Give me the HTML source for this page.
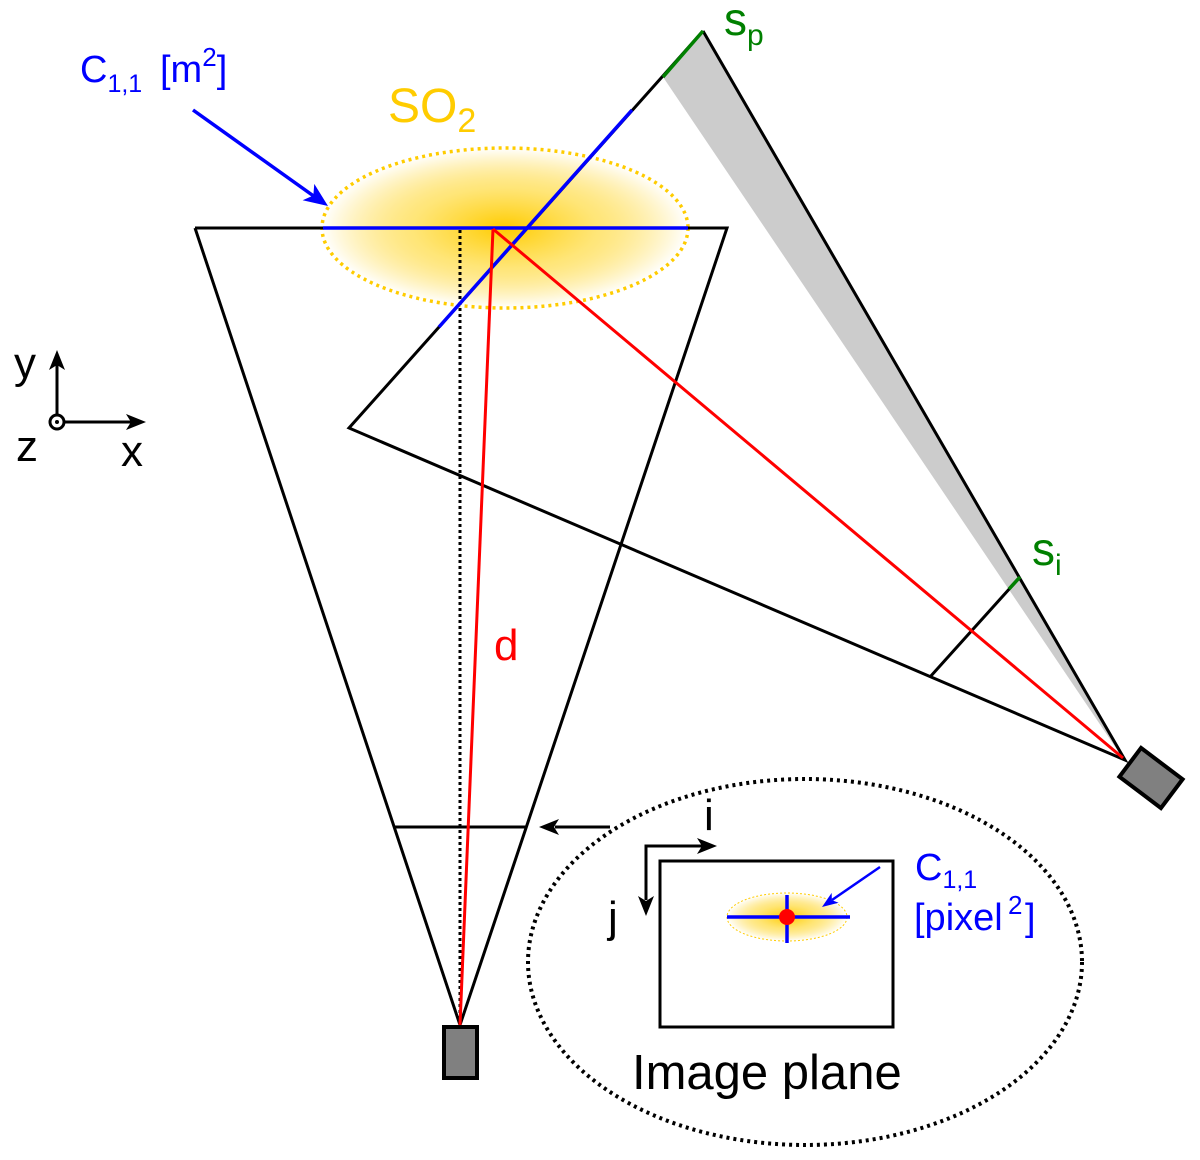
<!DOCTYPE html>
<html><head><style>
html,body{margin:0;padding:0;background:#fff}
svg{display:block}
text{font-family:"Liberation Sans",sans-serif}
</style></head><body>
<svg width="1200" height="1160" viewBox="0 0 1200 1160" xmlns="http://www.w3.org/2000/svg">
<defs>
<radialGradient id="g1" cx="0.5" cy="0.5" r="0.5">
<stop offset="0" stop-color="#ffcc00"/>
<stop offset="0.5" stop-color="#ffdf55" stop-opacity="0.8"/>
<stop offset="1" stop-color="#ffcc00" stop-opacity="0"/>
</radialGradient>
</defs>
<polygon points="663,77 703,31 1122,757" fill="#cccccc"/>
<ellipse cx="505" cy="228" rx="183" ry="80" fill="url(#g1)"/>
<ellipse cx="505" cy="228" rx="183" ry="80" fill="none" stroke="#ffcc00" stroke-width="3.5" stroke-dasharray="3,4"/>
<polyline points="195,228 727,228 460,1025 195,228" fill="none" stroke="#000" stroke-width="3"/>
<line x1="394" y1="827" x2="527" y2="827" stroke="#000" stroke-width="3"/>
<line x1="460" y1="230" x2="460" y2="1025" stroke="#000" stroke-width="3" stroke-dasharray="3,3"/>
<polyline points="703,31 1125,760 349,428 703,31" fill="none" stroke="#000" stroke-width="3"/>
<line x1="663" y1="77" x2="703" y2="31" stroke="#008000" stroke-width="3.5"/>
<line x1="930" y1="677" x2="1020" y2="577" stroke="#000" stroke-width="3"/>
<line x1="1009" y1="589" x2="1020" y2="577" stroke="#008000" stroke-width="3.5"/>
<line x1="323" y1="228" x2="688" y2="228" stroke="#0000ff" stroke-width="3.5"/>
<line x1="439" y1="327" x2="632" y2="110" stroke="#0000ff" stroke-width="3.5"/>
<line x1="493" y1="229" x2="460" y2="1025" stroke="#ff0000" stroke-width="3"/>
<line x1="493" y1="229" x2="1123" y2="758" stroke="#ff0000" stroke-width="3"/>
<rect x="444" y="1027" width="33" height="51" fill="#808080" stroke="#000" stroke-width="4"/>
<rect x="-26" y="-18" width="52" height="36" fill="#808080" stroke="#000" stroke-width="4" transform="translate(1151,778) rotate(37)"/>
<line x1="193" y1="110" x2="315" y2="197" stroke="#0000ff" stroke-width="3.5"/>
<polygon points="0,0 -24,-10 -18,0 -24,10" fill="#0000ff" transform="translate(328,206) rotate(35.5)"/>
<text x="80" y="82" fill="#0000ff" font-size="38">C<tspan font-size="25" dy="10">1,1</tspan><tspan dy="-10" x="160">[m</tspan><tspan font-size="26" dy="-16">2</tspan><tspan dy="16">]</tspan></text>
<text x="388" y="122" fill="#ffcc00" font-size="48">SO<tspan font-size="34" dy="10">2</tspan></text>
<text x="724" y="35" fill="#008000" font-size="46">s<tspan font-size="30" dy="10">p</tspan></text>
<text x="1032" y="565" fill="#008000" font-size="46">s<tspan font-size="30" dy="10">i</tspan></text>
<text x="494" y="660" fill="#ff0000" font-size="44">d</text>
<line x1="57" y1="416" x2="57" y2="365" stroke="#000" stroke-width="3"/>
<polygon points="0,0 -20,-8 -15,0 -20,8" fill="#000" transform="translate(57,350) rotate(-90)"/>
<line x1="63" y1="422" x2="132" y2="422" stroke="#000" stroke-width="3"/>
<polygon points="0,0 -20,-8 -15,0 -20,8" fill="#000" transform="translate(146,422)"/>
<circle cx="57" cy="422" r="7" fill="#fff" stroke="#000" stroke-width="3"/>
<circle cx="57" cy="422" r="2" fill="#000"/>
<text x="14" y="378" font-size="44">y</text>
<text x="16" y="461" font-size="44">z</text>
<text x="121" y="466" font-size="44">x</text>
<ellipse cx="805" cy="962" rx="277" ry="183" fill="none" stroke="#000" stroke-width="4" stroke-dasharray="3,4"/>
<line x1="610" y1="827" x2="555" y2="827" stroke="#000" stroke-width="3"/>
<polygon points="0,0 -20,-8 -15,0 -20,8" fill="#000" transform="translate(539,827) rotate(180)"/>
<rect x="660" y="861" width="233" height="166" fill="none" stroke="#000" stroke-width="3"/>
<polyline points="646,900 646,846 702,846" fill="none" stroke="#000" stroke-width="3"/>
<polygon points="0,0 -20,-8 -15,0 -20,8" fill="#000" transform="translate(717,846)"/>
<polygon points="0,0 -20,-8 -15,0 -20,8" fill="#000" transform="translate(646,916) rotate(90)"/>
<text x="704" y="830" font-size="44">i</text>
<text x="608" y="932" font-size="44">j</text>
<ellipse cx="787" cy="917" rx="60" ry="24" fill="url(#g1)" stroke="#ffcc00" stroke-width="1" stroke-dasharray="2,2"/>
<line x1="727" y1="917" x2="850" y2="917" stroke="#0000ff" stroke-width="3.5"/>
<line x1="787" y1="895" x2="787" y2="943" stroke="#0000ff" stroke-width="3.5"/>
<circle cx="787" cy="917" r="8" fill="#ff0000"/>
<line x1="880" y1="867" x2="832" y2="900" stroke="#0000ff" stroke-width="2.5"/>
<polygon points="0,0 -16,-6 -12,0 -16,6" fill="#0000ff" transform="translate(822,907) rotate(145)"/>
<text x="915" y="880" fill="#0000ff" font-size="38">C<tspan font-size="25" dy="8">1,1</tspan></text>
<text x="914" y="930" fill="#0000ff" font-size="38">[pixel<tspan font-size="26" dy="-16" x="1008">2</tspan><tspan dy="16" x="1025">]</tspan></text>
<text x="632" y="1089" font-size="49">Image plane</text>
</svg>
</body></html>
